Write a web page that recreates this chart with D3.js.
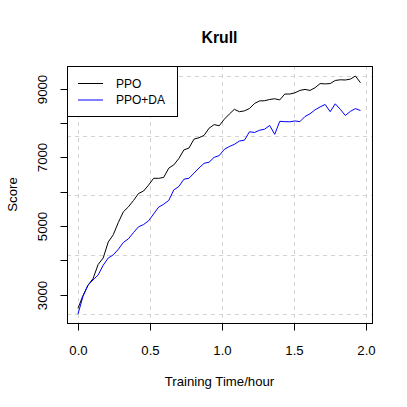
<!DOCTYPE html>
<html><head><meta charset="utf-8">
<script src="https://cdn.jsdelivr.net/npm/d3@7"></script>
<style>body{margin:0;background:#fff}svg{display:block}</style>
</head><body><svg id="c" width="407" height="407"></svg>
<script>
const time = [0, 0.035, 0.07, 0.105, 0.14, 0.175, 0.21, 0.245, 0.28, 0.315, 0.35, 0.385, 0.42, 0.455, 0.49, 0.525, 0.56, 0.595, 0.63, 0.665, 0.7, 0.735, 0.77, 0.805, 0.84, 0.875, 0.91, 0.945, 0.98, 1.015, 1.05, 1.085, 1.12, 1.155, 1.19, 1.225, 1.26, 1.295, 1.33, 1.365, 1.4, 1.435, 1.47, 1.505, 1.54, 1.575, 1.61, 1.645, 1.68, 1.715, 1.75, 1.785, 1.82, 1.855, 1.89, 1.925, 1.96];
const ppo = [2600, 2973, 3276, 3466, 3877, 4066, 4530, 4745, 5100, 5413, 5556, 5740, 5945, 6018, 6192, 6390, 6388, 6417, 6685, 6780, 6966, 7217, 7270, 7530, 7572, 7640, 7850, 7955, 7920, 8110, 8260, 8400, 8330, 8355, 8423, 8570, 8645, 8650, 8687, 8707, 8674, 8845, 8845, 8880, 8950, 8980, 8950, 9029, 9150, 9140, 9150, 9240, 9260, 9254, 9280, 9370, 9175];
const ppoDA = [2430, 2950, 3276, 3428, 3570, 3855, 4066, 4157, 4320, 4520, 4624, 4806, 4975, 5040, 5150, 5350, 5550, 5633, 5745, 6050, 6150, 6362, 6390, 6540, 6690, 6825, 6860, 7000, 7050, 7230, 7315, 7378, 7475, 7500, 7745, 7725, 7790, 7820, 7930, 7670, 8050, 8040, 8035, 8060, 8040, 8190, 8270, 8385, 8470, 8540, 8330, 8560, 8400, 8220, 8340, 8420, 8364];
const seriesNames = ["PPO", "PPO+DA"];
const seriesColors = ["#000000", "#0000ff"];
const xTicks = [0, 0.5, 1.0, 1.5, 2.0];
const yTicks = [3000, 4000, 5000, 6000, 7000, 8000, 9000];
const yLabels = [3000, 5000, 7000, 9000];
const xGrid = [0, 0.5, 1.0, 1.5, 2.0];
const yGrid = [2430, 4165, 5900, 7635, 9370];
const titleText = "Krull";
const xTitle = "Training Time/hour";
const yTitle = "Score";

const FONT = "'Liberation Sans', Arial, Helvetica, sans-serif";
const AX = "13.2px";
const L = 67, R = 372, T = 66, B = 323;
const svg = d3.select("#c");
svg.append("rect").attr("width", 407).attr("height", 407).attr("fill", "#fff");

const x = d3.scaleLinear().domain([-0.076, 2.04]).range([L, R]);
const y = d3.scaleLinear().domain([2172, 9662]).range([B, T]);

// grid
const g = svg.append("g").attr("stroke", "#d3d3d3").attr("stroke-dasharray", "4,4").attr("stroke-width", 1);
g.selectAll("line.v").data(xGrid).join("line").attr("class", "v")
  .attr("x1", d => Math.round(x(d)) + 0.5).attr("x2", d => Math.round(x(d)) + 0.5)
  .attr("y1", T).attr("y2", B);
g.selectAll("line.h").data(yGrid).join("line").attr("class", "h")
  .attr("y1", d => Math.round(y(d)) + 0.5).attr("y2", d => Math.round(y(d)) + 0.5)
  .attr("x1", L).attr("x2", R);

// lines
const line = d3.line().x((d, i) => x(time[i])).y(d => y(d));
[ppo, ppoDA].forEach((s, k) => {
  svg.append("path").datum(s).attr("d", line).attr("fill", "none")
    .attr("stroke", seriesColors[k]).attr("stroke-width", 1);
});

// axes
const xa = svg.append("g").attr("transform", `translate(0,${B + 0.5})`)
  .call(d3.axisBottom(x).tickValues(xTicks).tickSize(7).tickSizeOuter(0).tickFormat(d3.format(".1f")));
xa.select(".domain").remove();
xa.selectAll("line").attr("stroke", "#000");
xa.selectAll("text").attr("y", 27).attr("dy", "0.35em").style("font-family", FONT).style("font-size", AX).attr("fill", "#000");
xa.selectAll(".tick").attr("transform", d => `translate(${Math.round(x(d)) + 0.5},0)`);

const ya = svg.append("g").attr("transform", `translate(${L + 0.5},0)`)
  .call(d3.axisLeft(y).tickValues(yTicks).tickSize(7).tickSizeOuter(0)
    .tickFormat(d => yLabels.includes(d) ? String(d) : ""));
ya.select(".domain").remove();
ya.selectAll("line").attr("stroke", "#000");
ya.selectAll(".tick").attr("transform", d => `translate(0,${Math.round(y(d)) + 0.5})`);
ya.selectAll("text").attr("x", null).attr("dy", null)
  .attr("transform", "translate(-25,0) rotate(-90)").attr("text-anchor", "middle")
  .attr("dominant-baseline", "central")
  .style("font-family", FONT).style("font-size", AX).attr("fill", "#000");

// box
svg.append("rect").attr("x", L + 0.5).attr("y", T + 0.5).attr("width", R - L).attr("height", B - T)
  .attr("fill", "none").attr("stroke", "#000").attr("stroke-width", 1);

// legend
const lg = svg.append("g");
lg.append("rect").attr("x", L + 0.5).attr("y", T + 0.5).attr("width", 110).attr("height", 50)
  .attr("fill", "#fff").attr("stroke", "#000");
seriesNames.forEach((n, k) => {
  const yy = 83.5 + k * 16.5;
  lg.append("line").attr("x1", 78).attr("x2", 103).attr("y1", yy).attr("y2", yy)
    .attr("stroke", seriesColors[k]).attr("stroke-width", 1);
  lg.append("text").attr("x", 116).attr("y", yy).attr("dominant-baseline", "central")
    .style("font-family", FONT).style("font-size", "12px").text(n);
});

// titles
svg.append("text").attr("x", (L + R) / 2).attr("y", 37).attr("text-anchor", "middle")
  .attr("dominant-baseline", "central").style("font-family", FONT).style("font-size", "15.8px")
  .style("font-weight", "bold").text(titleText);
svg.append("text").attr("x", (L + R) / 2).attr("y", 381).attr("text-anchor", "middle")
  .attr("dominant-baseline", "central").style("font-family", FONT).style("font-size", AX).text(xTitle);
svg.append("text").attr("transform", `translate(12,${(T + B) / 2}) rotate(-90)`).attr("text-anchor", "middle")
  .attr("dominant-baseline", "central").style("font-family", FONT).style("font-size", AX).text(yTitle);
</script></body></html>
